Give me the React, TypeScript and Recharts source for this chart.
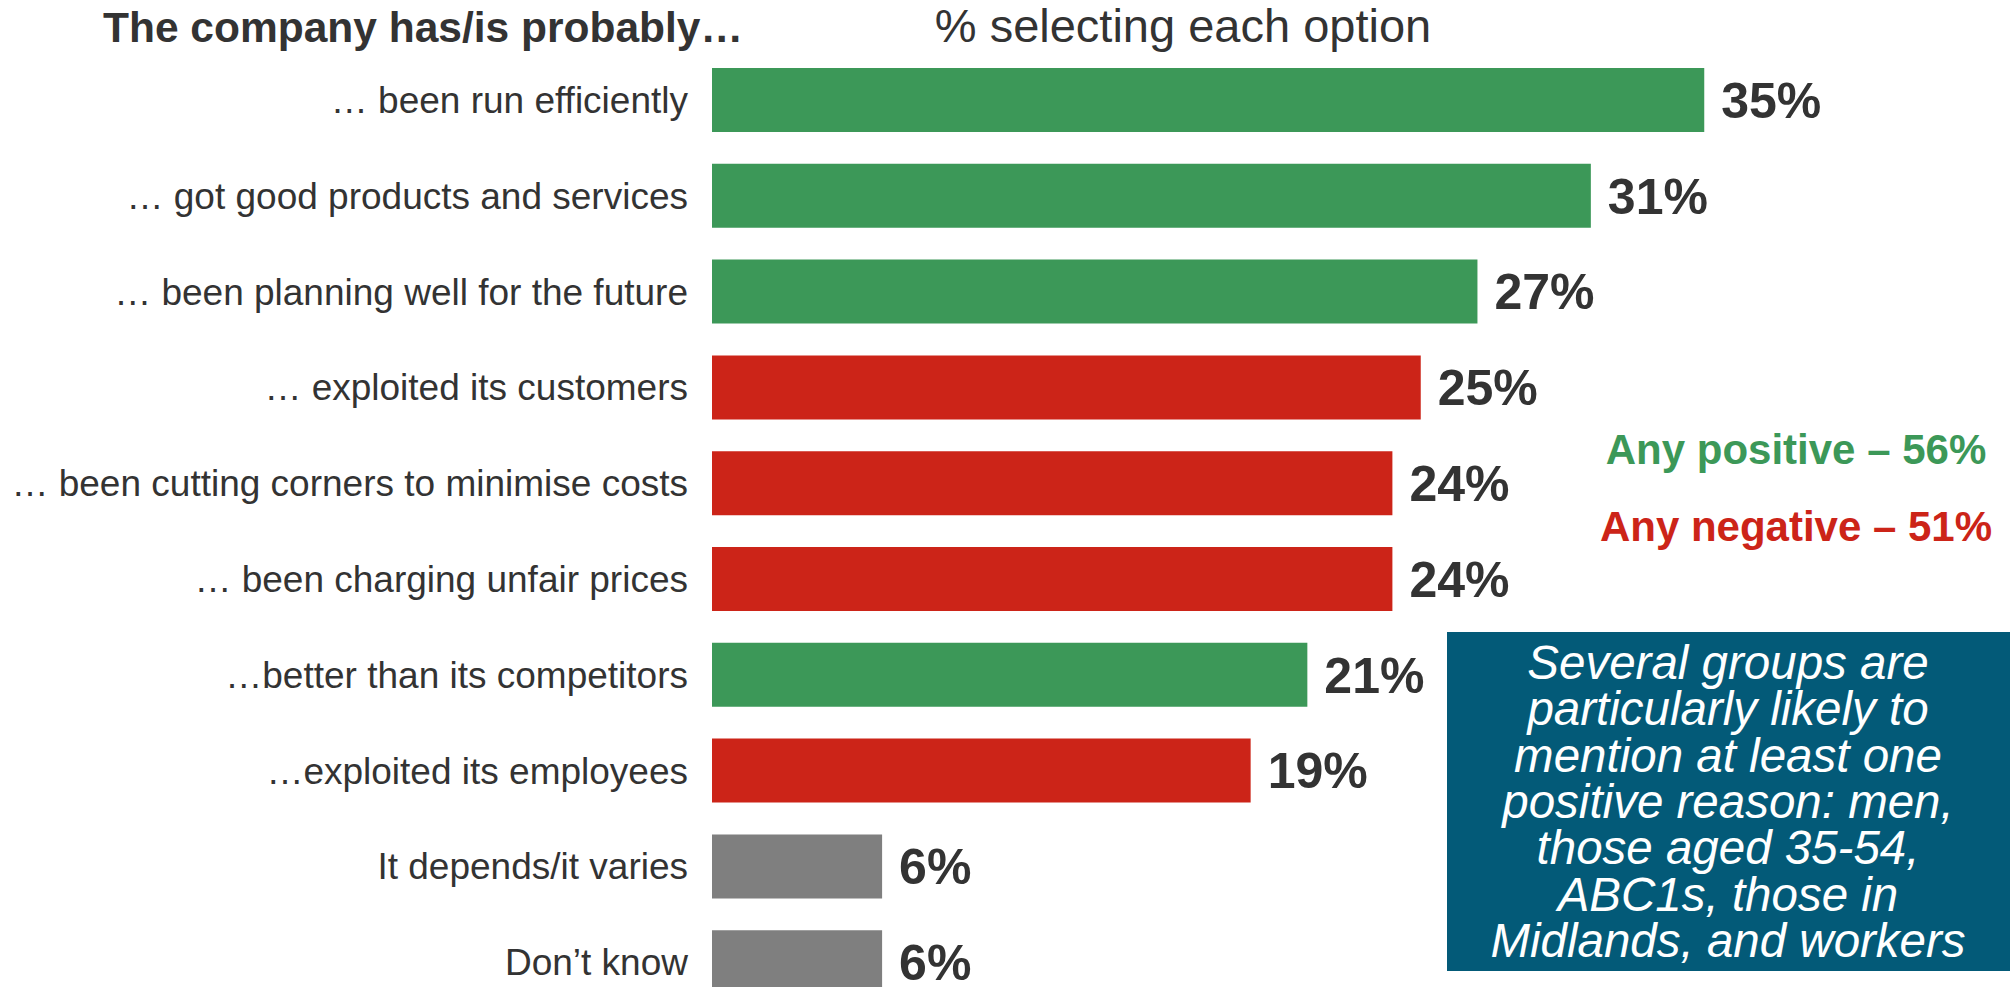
import { BarChart, Bar, XAxis, YAxis, Cell, LabelList } from 'recharts';

const categories = [
  '… been run efficiently',
  '… got good products and services',
  '… been planning well for the future',
  '… exploited its customers',
  '… been cutting corners to minimise costs',
  '… been charging unfair prices',
  '…better than its competitors',
  '…exploited its employees',
  'It depends/it varies',
  'Don’t know',
];
const values = [35, 31, 27, 25, 24, 24, 21, 19, 6, 6];
const tones = ['pos', 'pos', 'pos', 'neg', 'neg', 'neg', 'pos', 'neg', 'other', 'other'];

const boxLines = [
  'Several groups are',
  'particularly likely to',
  'mention at least one',
  'positive reason: men,',
  'those aged 35-54,',
  'ABC1s, those in',
  'Midlands, and workers',
];

const toneColor: Record<string, string> = { pos: '#3c9858', neg: '#cc2418', other: '#7f7f7f' };
const font = '"Liberation Sans", Arial, sans-serif';

const data = categories.map((name, i) => ({ name, value: values[i], tone: tones[i] }));

function CategoryTick(props: any) {
  const { x, y, payload } = props;
  return (
    <text x={x} y={y} dy="0.355em" textAnchor="end" fontSize={37} fill="#333" fontFamily={font}>
      {payload.value}
    </text>
  );
}

export default function App() {
  return (
    <div style={{ position: 'absolute', left: 0, top: 0, width: 2012, height: 987, overflow: 'hidden', background: '#fff' }}>
      <BarChart
        layout="vertical"
        width={2012}
        height={1020}
        data={data}
        margin={{ top: 52, right: 166, left: 0, bottom: 10 }}
      >
        <XAxis type="number" domain={[0, 40]} hide />
        <YAxis
          type="category"
          dataKey="name"
          width={712}
          axisLine={false}
          tickLine={false}
          tickSize={0}
          tickMargin={24}
          tick={<CategoryTick />}
          interval={0}
        />
        <Bar dataKey="value" barSize={64} isAnimationActive={false}>
          {data.map((d, i) => (
            <Cell key={i} fill={toneColor[d.tone]} />
          ))}
          <LabelList
            dataKey="value"
            position="right"
            offset={17}
            formatter={(v: any) => `${v}%`}
            style={{ fontSize: 50, fontWeight: 'bold', fill: '#333', fontFamily: font }}
          />
        </Bar>
      </BarChart>
      <svg
        width={2012}
        height={987}
        style={{ position: 'absolute', left: 0, top: 0, pointerEvents: 'none' }}
        fontFamily={font}
      >
        <text x={103} y={42} fontSize={42.5} fontWeight="bold" fill="#333">
          The company has/is probably…
        </text>
        <text x={1183} y={42} fontSize={47} textAnchor="middle" fill="#333">
          % selecting each option
        </text>
        <text x={1796} y={464} fontSize={42} fontWeight="bold" textAnchor="middle" fill="#3c9858">
          Any positive – 56%
        </text>
        <text x={1796} y={541} fontSize={42} fontWeight="bold" textAnchor="middle" fill="#cc2418">
          Any negative – 51%
        </text>
        <rect x={1447} y={632} width={563} height={339} fill="#035a78" />
        <text fontSize={47.5} fontStyle="italic" fill="#fff" textAnchor="middle">
          {boxLines.map((line, i) => (
            <tspan key={i} x={1728} y={679 + i * 46.3}>
              {line}
            </tspan>
          ))}
        </text>
      </svg>
    </div>
  );
}
